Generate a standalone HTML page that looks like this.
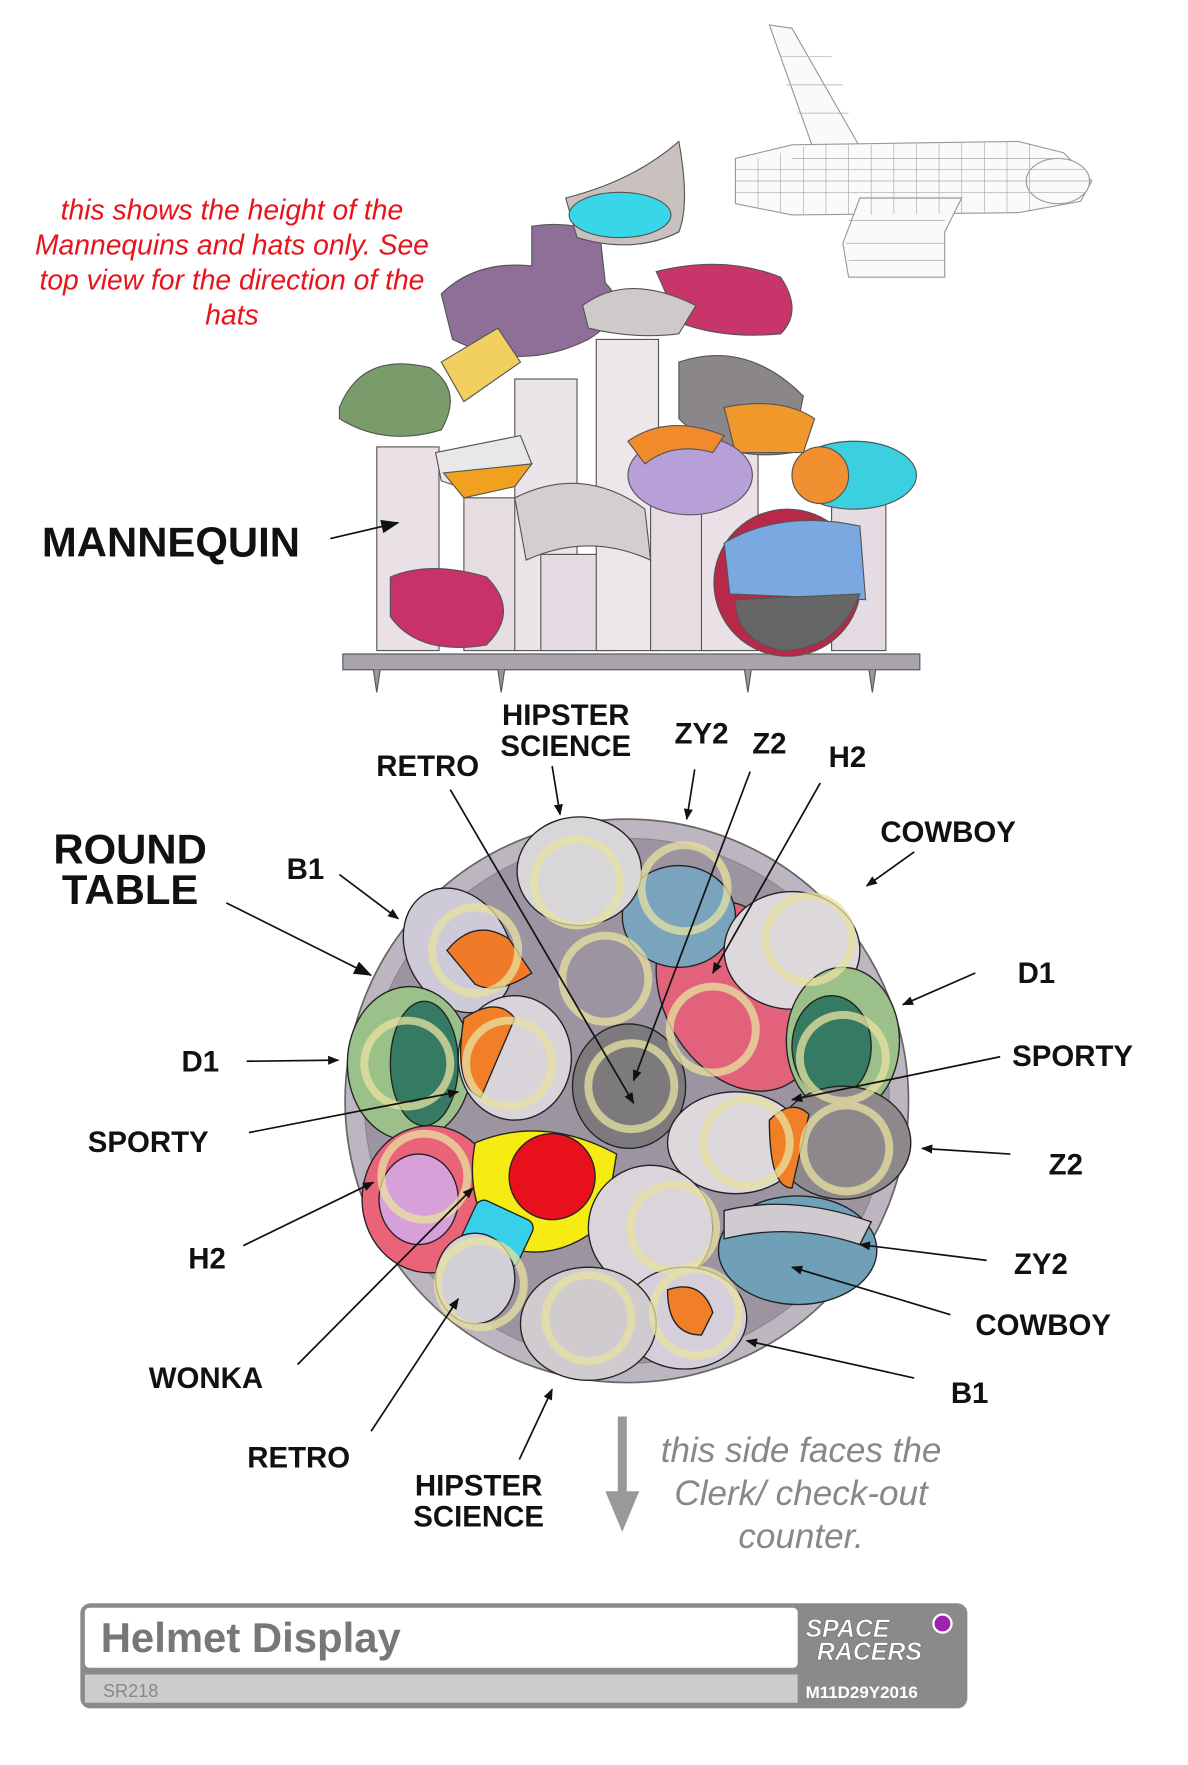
<!DOCTYPE html>
<html><head><meta charset="utf-8"><style>
html,body{margin:0;padding:0;background:#fff;}
svg{display:block}
.l{font-family:"Liberation Sans",sans-serif;font-weight:bold;font-size:26px;fill:#111}
.big{font-family:"Liberation Sans",sans-serif;font-weight:bold;font-size:37px;fill:#111}
.hand{font-family:"Liberation Sans",sans-serif;font-style:italic;font-size:25px;fill:#e8141c}
.hg{font-family:"Liberation Sans",sans-serif;font-style:italic;font-size:31px;fill:#888}
.ln{stroke:#111;stroke-width:1.5;fill:none}
.ring{fill:none;stroke:#e8e2a0;stroke-width:7;opacity:.75}
</style></head><body>
<svg width="1188" height="1765" viewBox="0 0 1050 1560" xmlns="http://www.w3.org/2000/svg">
<defs>
<marker id="a" markerWidth="10" markerHeight="8" refX="9" refY="4" orient="auto" markerUnits="userSpaceOnUse"><path d="M0,0L10,4L0,8z" fill="#111"/></marker>
<marker id="b" markerWidth="16" markerHeight="12" refX="15" refY="6" orient="auto" markerUnits="userSpaceOnUse"><path d="M0,0L16,6L0,12z" fill="#111"/></marker>
</defs>
<rect width="1050" height="1560" fill="#fff"/>

<text class="hand" x="205" y="194" text-anchor="middle">this shows the height of the</text>
<text class="hand" x="205" y="225" text-anchor="middle">Mannequins and hats only. See</text>
<text class="hand" x="205" y="256" text-anchor="middle">top view for the direction of the</text>
<text class="hand" x="205" y="287" text-anchor="middle">hats</text>

<g stroke="#999" stroke-width="1" fill="#fafafa">
<path d="M680,22 L700,25 L760,130 L720,135 Z"/>
<path d="M650,140 L700,128 L900,125 L940,135 L965,160 L955,178 L900,188 L700,190 L650,180 Z"/>
<path d="M760,175 L850,175 L835,205 L835,245 L750,245 L745,215 Z"/>
<ellipse cx="935" cy="160" rx="28" ry="20"/>
</g>
<g stroke="#aaa" stroke-width=".6">
<path d="M670,140V185M690,135V188M710,130V190M730,128V190M750,128V190M770,128V190M790,127V189M810,127V189M830,127V189M850,126V188M870,126V188M890,126V188M910,128V186"/>
<path d="M650,150H960M650,160H965M650,170H960M700,140H940"/>
<path d="M690,50L735,50M695,75L745,75M705,100L750,100M750,195H835M748,215H835M750,230H835"/>
</g>

<g stroke="#555" stroke-width="1">
<rect x="333" y="395" width="55" height="180" fill="#e9e1e6"/>
<rect x="410" y="440" width="50" height="135" fill="#e6dde3"/>
<rect x="455" y="335" width="55" height="240" fill="#ebe4e8"/>
<rect x="478" y="490" width="65" height="85" fill="#e4dce2"/>
<rect x="527" y="300" width="55" height="275" fill="#ede6ea"/>
<rect x="575" y="440" width="55" height="135" fill="#e6dde3"/>
<rect x="620" y="330" width="50" height="245" fill="#e9e1e6"/>
<rect x="735" y="440" width="48" height="135" fill="#e4dce2"/>
<rect x="303" y="578" width="510" height="14" fill="#a9a4ab"/>
<path d="M330,592l3,20 3,-20M440,592l3,20 3,-20M658,592l3,20 3,-20M768,592l3,20 3,-20" fill="#999"/>
<path d="M300,360 Q320,310 380,325 Q410,345 390,380 Q340,395 300,370Z" fill="#7a9c6a"/>
<path d="M390,260 Q420,230 470,235 L470,200 Q500,195 530,205 L535,250 Q560,275 520,300 Q460,330 400,300Z" fill="#8e6f98"/>
<path d="M390,320 L440,290 460,320 410,355Z" fill="#f2d060"/>
<path d="M500,175 Q560,160 600,125 Q610,180 600,205 Q560,225 510,210Z" fill="#c9c1bd"/>
<ellipse cx="548" cy="190" rx="45" ry="20" fill="#38d6e8"/>
<path d="M580,240 Q640,225 690,245 Q710,275 690,295 Q640,300 600,285Z" fill="#c8356a"/>
<path d="M515,270 Q555,240 615,270 L600,295 Q560,300 520,290Z" fill="#cfcaca"/>
<path d="M600,320 Q660,300 710,350 L700,400 Q640,410 600,370Z" fill="#8a8689"/>
<path d="M640,360 Q690,350 720,370 L710,400 L650,400Z" fill="#f0982c"/>
<ellipse cx="610" cy="420" rx="55" ry="35" fill="#b7a0d8"/>
<path d="M555,390 Q590,365 640,385 L630,400 Q595,390 570,410Z" fill="#f08a2a"/>
<ellipse cx="755" cy="420" rx="55" ry="30" fill="#3ad0e0"/>
<ellipse cx="725" cy="420" rx="25" ry="25" fill="#f09030"/>
<path d="M385,400 L460,385 470,410 420,435 390,425Z" fill="#e8e8e8"/>
<path d="M392,418 L470,410 455,430 410,440Z" fill="#f2a020"/>
<path d="M345,510 Q380,495 430,510 Q460,540 430,570 Q370,580 345,545Z" fill="#c8316a"/>
<path d="M455,440 Q515,410 570,450 L575,495 Q520,470 465,495Z" fill="#d4cdd2"/>
<circle cx="696" cy="515" r="65" fill="#b82848"/>
<path d="M640,480 Q690,450 760,465 L765,530 L645,525Z" fill="#7aa8e0"/>
<path d="M650,530 L760,525 Q740,575 690,575 Q650,565 650,530Z" fill="#666"/>
</g>
<text class="big" x="37" y="492">MANNEQUIN</text>
<line class="ln" x1="292" y1="476" x2="352" y2="462" stroke-width="3" marker-end="url(#b)"/>

<circle cx="554" cy="973" r="249" fill="#bdb6c0" stroke="#666" stroke-width="1.5"/>
<circle cx="554" cy="973" r="232" fill="#9d94a2" stroke="#888"/>
<g stroke="#222" stroke-width="1.2">
<ellipse cx="652" cy="880" rx="65" ry="90" fill="#e2627c" transform="rotate(-30 652 880)"/>
<ellipse cx="600" cy="810" rx="50" ry="45" fill="#7aa3bd"/>
<ellipse cx="512" cy="770" rx="55" ry="48" fill="#d9d6d9"/>
<ellipse cx="405" cy="840" rx="45" ry="58" fill="#cfcad8" transform="rotate(-30 405 840)"/>
<path d="M395,840 Q420,810 450,830 L470,860 Q440,880 420,870Z" fill="#f07a28"/>
<ellipse cx="700" cy="840" rx="60" ry="52" fill="#dcd8dc"/>
<ellipse cx="362" cy="940" rx="55" ry="68" fill="#9cc08a"/>
<ellipse cx="375" cy="940" rx="30" ry="55" fill="#357a63"/>
<ellipse cx="745" cy="920" rx="50" ry="65" fill="#9cc08a"/>
<ellipse cx="735" cy="925" rx="35" ry="45" fill="#357a63"/>
<ellipse cx="455" cy="935" rx="50" ry="55" fill="#d8d4da"/>
<path d="M410,900 Q440,880 455,900 L425,970 Q400,960 410,900Z" fill="#f07f28"/>
<ellipse cx="556" cy="960" rx="50" ry="55" fill="#7d7a7e"/>
<ellipse cx="380" cy="1060" rx="60" ry="65" fill="#ea6378"/>
<ellipse cx="370" cy="1060" rx="35" ry="40" fill="#d8a0d8"/>
<ellipse cx="650" cy="1010" rx="60" ry="45" fill="#dcd8dc"/>
<ellipse cx="745" cy="1010" rx="60" ry="50" fill="#8c888c"/>
<path d="M680,990 Q700,970 715,985 L700,1050 Q680,1050 680,990Z" fill="#f07f28"/>
<path d="M420,1010 Q480,985 545,1020 L535,1080 Q490,1120 440,1100 Q410,1060 420,1010Z" fill="#f6ec14"/>
<circle cx="488" cy="1040" r="38" fill="#e8101c"/>
<rect x="412" y="1068" width="55" height="45" rx="8" fill="#38d0e8" transform="rotate(25 440 1090)"/>
<ellipse cx="705" cy="1105" rx="70" ry="48" fill="#6fa0b8"/>
<path d="M640,1070 Q700,1055 770,1080 L760,1100 Q700,1080 640,1095Z" fill="#cfcbd0"/>
<ellipse cx="575" cy="1085" rx="55" ry="55" fill="#d9d5da"/>
<ellipse cx="605" cy="1165" rx="55" ry="45" fill="#d5cfdc"/>
<path d="M590,1140 Q620,1130 630,1160 L620,1180 Q590,1180 590,1140Z" fill="#f07f28"/>
<ellipse cx="520" cy="1170" rx="60" ry="50" fill="#cfcbcf"/>
<ellipse cx="420" cy="1130" rx="35" ry="40" fill="#d3cfd6"/>
</g>
<g class="ring">
<circle cx="510" cy="780" r="38"/><circle cx="605" cy="785" r="38"/><circle cx="420" cy="840" r="38"/><circle cx="715" cy="830" r="38"/>
<circle cx="535" cy="865" r="38"/><circle cx="630" cy="910" r="38"/><circle cx="360" cy="940" r="38"/><circle cx="450" cy="940" r="38"/>
<circle cx="745" cy="935" r="38"/><circle cx="558" cy="960" r="38"/><circle cx="660" cy="1010" r="38"/><circle cx="748" cy="1015" r="38"/>
<circle cx="375" cy="1040" r="38"/><circle cx="595" cy="1085" r="38"/><circle cx="425" cy="1135" r="38"/><circle cx="520" cy="1165" r="38"/><circle cx="615" cy="1160" r="38"/>
</g>

<text class="big" x="115" y="763" text-anchor="middle">ROUND</text>
<text class="big" x="115" y="799" text-anchor="middle">TABLE</text>
<line class="ln" x1="200" y1="798" x2="328" y2="862" stroke-width="3" marker-end="url(#b)"/>
<g class="l">
<text x="378" y="686" text-anchor="middle">RETRO</text>
<text x="500" y="641" text-anchor="middle">HIPSTER</text>
<text x="500" y="668" text-anchor="middle">SCIENCE</text>
<text x="620" y="657" text-anchor="middle">ZY2</text>
<text x="680" y="666" text-anchor="middle">Z2</text>
<text x="749" y="678" text-anchor="middle">H2</text>
<text x="838" y="744" text-anchor="middle">COWBOY</text>
<text x="270" y="777" text-anchor="middle">B1</text>
<text x="916" y="869" text-anchor="middle">D1</text>
<text x="177" y="947" text-anchor="middle">D1</text>
<text x="948" y="942" text-anchor="middle">SPORTY</text>
<text x="131" y="1018" text-anchor="middle">SPORTY</text>
<text x="942" y="1038" text-anchor="middle">Z2</text>
<text x="183" y="1121" text-anchor="middle">H2</text>
<text x="920" y="1126" text-anchor="middle">ZY2</text>
<text x="922" y="1180" text-anchor="middle">COWBOY</text>
<text x="182" y="1227" text-anchor="middle">WONKA</text>
<text x="857" y="1240" text-anchor="middle">B1</text>
<text x="264" y="1297" text-anchor="middle">RETRO</text>
<text x="423" y="1322" text-anchor="middle">HIPSTER</text>
<text x="423" y="1349" text-anchor="middle">SCIENCE</text>
</g>
<g class="ln" marker-end="url(#a)">
<line x1="398" y1="698" x2="560" y2="975"/>
<line x1="488" y1="677" x2="495" y2="720"/>
<line x1="614" y1="680" x2="607" y2="724"/>
<line x1="663" y1="682" x2="560" y2="955"/>
<line x1="725" y1="692" x2="630" y2="860"/>
<line x1="808" y1="753" x2="766" y2="783"/>
<line x1="300" y1="773" x2="352" y2="812"/>
<line x1="862" y1="860" x2="798" y2="888"/>
<line x1="218" y1="938" x2="299" y2="937"/>
<line x1="884" y1="934" x2="700" y2="972"/>
<line x1="220" y1="1001" x2="405" y2="965"/>
<line x1="893" y1="1020" x2="815" y2="1015"/>
<line x1="215" y1="1101" x2="330" y2="1045"/>
<line x1="872" y1="1114" x2="760" y2="1100"/>
<line x1="840" y1="1162" x2="700" y2="1120"/>
<line x1="263" y1="1206" x2="418" y2="1050"/>
<line x1="808" y1="1218" x2="660" y2="1185"/>
<line x1="328" y1="1265" x2="405" y2="1148"/>
<line x1="459" y1="1290" x2="488" y2="1228"/>
</g>

<rect x="546" y="1252" width="8" height="75" fill="#999"/>
<path d="M535,1318 L565,1318 550,1354Z" fill="#999"/>
<text class="hg" x="708" y="1292" text-anchor="middle">this side faces the</text>
<text class="hg" x="708" y="1330" text-anchor="middle">Clerk/ check-out</text>
<text class="hg" x="708" y="1368" text-anchor="middle">counter.</text>

<rect x="71" y="1417" width="784" height="93" rx="9" fill="#8a8a8a"/>
<rect x="75" y="1421" width="630" height="53" rx="4" fill="#fff"/>
<rect x="75" y="1480" width="630" height="25" fill="#cccccc"/>
<text x="89" y="1460" font-family="Liberation Sans,sans-serif" font-weight="bold" font-size="37" fill="#777">Helmet Display</text>
<text x="91" y="1500" font-family="Liberation Sans,sans-serif" font-size="16" fill="#888">SR218</text>
<text x="712" y="1447" font-family="Liberation Sans,sans-serif" font-weight="bold" font-style="italic" font-size="22" fill="#fff" stroke="#666" stroke-width=".5">SPACE</text>
<text x="722" y="1467" font-family="Liberation Sans,sans-serif" font-weight="bold" font-style="italic" font-size="22" fill="#fff" stroke="#666" stroke-width=".5">RACERS</text>
<circle cx="833" cy="1435" r="8" fill="#a020b0" stroke="#fff" stroke-width="2"/>
<text x="712" y="1501" font-family="Liberation Sans,sans-serif" font-weight="bold" font-size="15" fill="#fff">M11D29Y2016</text>
</svg>
</body></html>
